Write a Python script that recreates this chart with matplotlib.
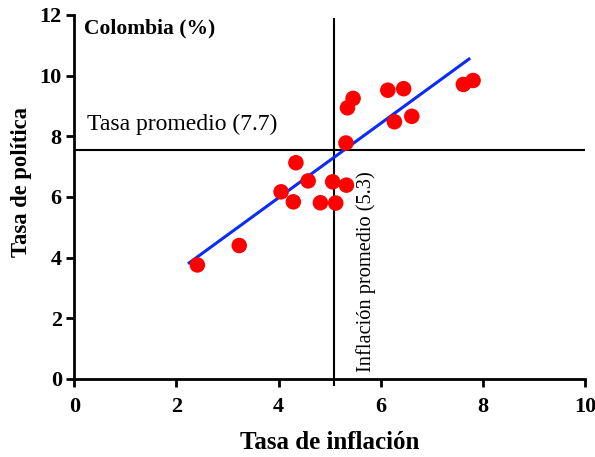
import numpy as np
import matplotlib
matplotlib.use("Agg")
import matplotlib.pyplot as plt

plt.rcParams['font.family'] = ['Liberation Serif', 'DejaVu Serif']

# inflation vs policy rate, Colombia (%)
inflacion = [2.41, 3.23, 4.05, 4.29, 4.34, 4.58, 4.82, 5.06, 5.12, 5.33,
             5.32, 5.35, 5.46, 6.14, 6.45, 6.27, 6.61, 7.62, 7.81]
tasa = [3.76, 4.40, 6.17, 5.84, 7.13, 6.53, 5.81, 6.50, 5.80, 6.39,
        7.78, 8.94, 9.25, 9.52, 9.57, 8.48, 8.66, 9.71, 9.84]

# fitted line
fit_x = [2.25, 7.73]
fit_slope = 1.226
fit_intercept = 1.07

prom_inflacion = 5.08
prom_tasa = 7.56

fig = plt.figure(figsize=(5.95, 4.57), dpi=100)
ax = fig.add_axes([0.1249, 0.1707, 0.8581, 0.7965])

ax.axhline(prom_tasa, color='black', lw=1.5, zorder=1)
ax.plot([prom_inflacion, prom_inflacion], [-0.19, 11.88], color='black', lw=1.5,
        clip_on=False, zorder=1)

fx = np.array(fit_x)
ax.plot(fx, fit_intercept + fit_slope * fx, color='#0a2cf5', lw=2.2, zorder=2)
ax.scatter(inflacion, tasa, s=125, color='#ff0000', edgecolors='none', zorder=3)

ax.text(0.19, 11.57, 'Colombia (%)', fontsize=15.5, fontweight='bold', va='center')
ax.text(0.25, 8.22, 'Tasa promedio (7.7)', fontsize=17, va='baseline')
ax.text(5.71, 0.22, 'Inflación promedio (5.3)', fontsize=14.7, rotation=90,
        ha='center', va='bottom')

ax.set_xlim(0, 10)
ax.set_ylim(0, 12)
ax.set_xticks(range(0, 11, 2))
ax.set_yticks(range(0, 13, 2))
for s in ['top', 'right']:
    ax.spines[s].set_visible(False)
for s in ['left', 'bottom']:
    ax.spines[s].set_linewidth(2)
ax.tick_params(width=2, length=6, labelsize=16)
ax.tick_params(axis='x', pad=7)
ax.tick_params(axis='y', pad=3)
for lbl in ax.get_xticklabels() + ax.get_yticklabels():
    lbl.set_fontweight('bold')

ax.set_xlabel('Tasa de inflación', fontsize=18, fontweight='bold', labelpad=10)
ax.set_ylabel('Tasa de política', fontsize=16.3, fontweight='bold')
ax.yaxis.set_label_coords(-0.082, 0.541)

fig.savefig('out.png', dpi=100)
